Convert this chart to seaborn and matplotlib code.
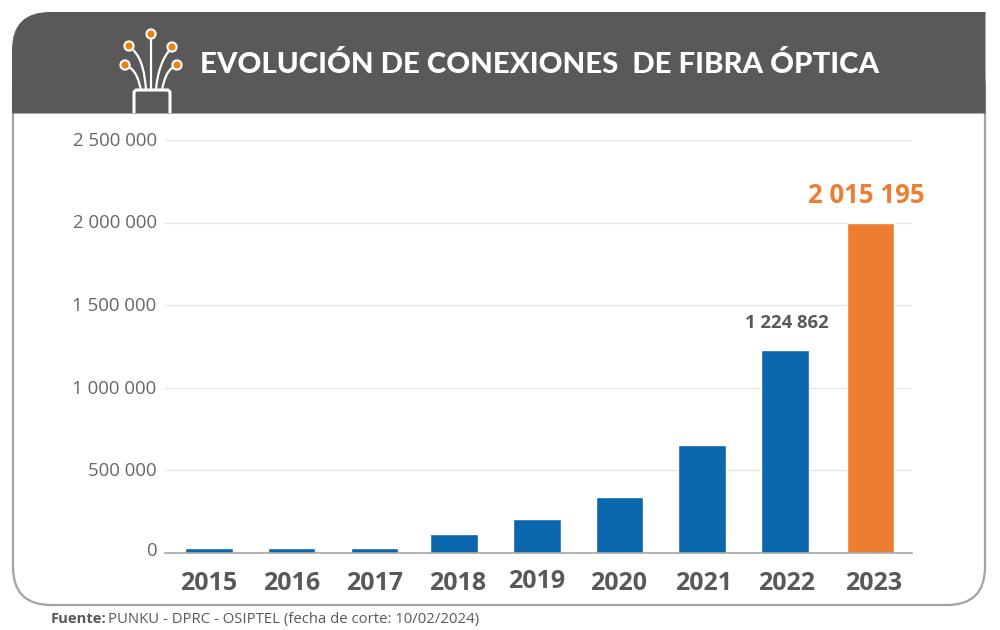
import matplotlib
matplotlib.use("Agg")
import matplotlib.pyplot as plt
from matplotlib.patches import FancyBboxPatch, Circle, PathPatch
from matplotlib.path import Path
from matplotlib.ticker import FuncFormatter
from matplotlib.transforms import ScaledTranslation
import seaborn as sns
import pandas as pd

years = ["2015", "2016", "2017", "2018", "2019", "2020", "2021", "2022", "2023"]
# bar heights as drawn in the picture (the 2023 bar stops at the 2 000 000 gridline)
bar_heights = [30000, 30000, 30000, 110000, 203000, 335000, 650000, 1224862, 2000000]
value_labels = {"2022": "1 224 862", "2023": "2 015 195"}
label_colors = {"2022": "#595959", "2023": "#ED7D31"}
bar_colors = ["#0A67AE"] * 8 + ["#ED7D31"]
title = "EVOLUCIÓN DE CONEXIONES  DE FIBRA ÓPTICA"
source_bold = "Fuente:"
source_text = "PUNKU - DPRC - OSIPTEL (fecha de corte: 10/02/2024)"
# small manual offsets of the original layout, in pixels
bar_nudge = [0, 0, 0, -3, -3, -3, -3, -3, 0]
year_nudge_x = [0, 0, 0, 0, -3, -4, -2, -1, 3]
year_nudge_y = [0, 0, 0, 0, 2, 0, 0, 0, 0]

W, H = 1000, 630
sns.set_theme(style="white")
plt.rcParams["font.family"] = ["Open Sans", "DejaVu Sans"]
fig = plt.figure(figsize=(W / 100, H / 100), dpi=100, facecolor="white")
px = 1 / fig.dpi  # one pixel in inches


def nudge(dx, dy):
    return ScaledTranslation(dx * px, dy * px, fig.dpi_scale_trans)


# Decorative layer in pixel coordinates
bg = fig.add_axes([0, 0, 1, 1], zorder=0)
bg.set_xlim(0, W); bg.set_ylim(H, 0); bg.axis("off")
card = FancyBboxPatch((13, 50), 972, 555, boxstyle="round,pad=0,rounding_size=38",
                      fc="white", ec="#A3A3A3", lw=1.6)
bg.add_patch(card)
head_path = Path([(12, 113.5), (12, 50), (12, 12), (50, 12), (985.5, 12), (985.5, 113.5), (12, 113.5)],
                 [Path.MOVETO, Path.LINETO, Path.CURVE3, Path.CURVE3, Path.LINETO, Path.LINETO, Path.CLOSEPOLY])
bg.add_patch(PathPatch(head_path, fc="#5A5859", ec="none"))
bg.text(200, 73, title, color="white", fontsize=21.15, fontweight="black", family="Lato",
        va="baseline", ha="left")

fibers = [
    [(151, 36), (151, 60), (151, 75), (151, 90)],
    [(133, 50), (142, 58), (145, 75), (146, 90)],
    [(170, 50), (162, 58), (157, 75), (156, 90)],
    [(129, 67), (137, 72), (139, 82), (141, 90)],
    [(174, 67), (167, 70), (164, 80), (162, 90)],
]
for f in fibers:
    bg.add_patch(PathPatch(Path(f, [Path.MOVETO, Path.CURVE4, Path.CURVE4, Path.CURVE4]),
                           fc="none", ec="white", lw=1.6))
bg.add_patch(PathPatch(Path([(134, 113), (134, 92), (136, 90), (168, 90), (170, 92), (170, 113)]),
                       fc="none", ec="white", lw=2.2, joinstyle="round"))
for c in [(151, 34), (129, 46), (172, 47), (125, 65), (177, 65)]:
    bg.add_patch(Circle(c, 4.6, fc="#E8830F", ec="white", lw=1.5, zorder=5))

fig.text(51 / W, 1 - 619 / H, source_bold, fontsize=10.6, fontweight="bold", color="#595959",
         va="center", ha="left")
fig.text(108.5 / W, 1 - 619 / H, source_text, fontsize=10.7, color="#595959", va="center", ha="left")

# Chart
ax = fig.add_axes([165 / W, 1 - 552.5 / H, 747 / W, 412.5 / H], zorder=2)
ax.patch.set_alpha(0)
df = pd.DataFrame({"year": years, "conexiones": bar_heights})
sns.barplot(data=df, x="year", y="conexiones", hue="year", palette=bar_colors, legend=False,
            width=0.575, saturation=1, ax=ax)
ax.set_xlim(-0.532, 8.5)
ax.set_ylim(0, 2500000)
ax.set_yticks([0, 500000, 1000000, 1500000, 2000000, 2500000])
ax.yaxis.set_major_formatter(FuncFormatter(lambda v, _: f"{int(v):,}".replace(",", " ")))
ax.set_xlabel(""); ax.set_ylabel("")
ax.grid(axis="y", color="#E4E4E4", lw=0.9)
ax.set_axisbelow(True)
for s in ["top", "left", "right"]:
    ax.spines[s].set_visible(False)
ax.spines["bottom"].set_color("#A6A6A6")
ax.spines["bottom"].set_linewidth(1.2)
ax.tick_params(axis="y", length=0, pad=6, labelsize=13.4, labelcolor="#666666")
ax.tick_params(axis="x", length=0, pad=13, labelsize=18, labelcolor="#595959")

for bar, dx in zip([p for c in ax.containers for p in c], bar_nudge):
    bar.set_transform(ax.transData + nudge(dx, 0))

for lab, dx, dy in zip(ax.get_xticklabels(), year_nudge_x, year_nudge_y):
    lab.set_fontweight("bold")
    lab.set_transform(lab.get_transform() + nudge(dx, dy))
for lab in ax.get_yticklabels():
    lab.set_va("center")
    up = 2 if lab.get_text() == "0" else -1
    lab.set_transform(lab.get_transform() + nudge(0, up))

for i, (y, v) in enumerate(zip(years, bar_heights)):
    if y == "2022":
        ax.annotate(value_labels[y], (i, v), xytext=(-1, 20), textcoords="offset points",
                    ha="center", va="center", fontsize=13.3, fontweight="bold",
                    color=label_colors[y])
    elif y == "2023":
        ax.annotate(value_labels[y], (i, v), xytext=(-3, 19.5), textcoords="offset points",
                    ha="center", va="center", fontsize=18.5, fontweight="bold",
                    color=label_colors[y], annotation_clip=False)

fig.savefig("out.png", dpi=100, facecolor="white")
